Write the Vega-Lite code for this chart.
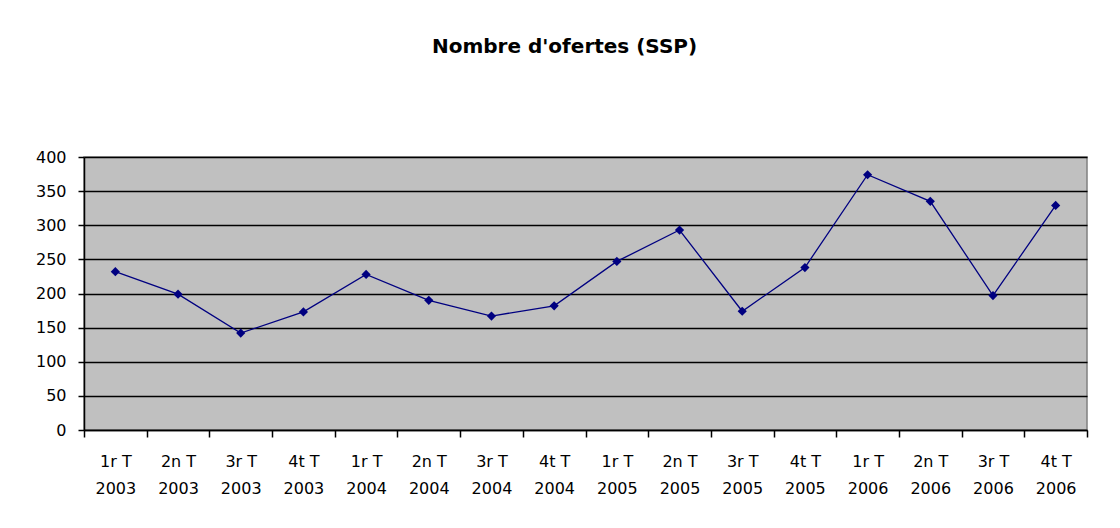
{
  "$schema": "https://vega.github.io/schema/vega-lite/v6.json",
  "autosize": "none",
  "padding": {"left": 84, "top": 157, "right": 33, "bottom": 98},
  "width": 1003,
  "height": 273,
  "background": "white",
  "title": {
    "text": "Nombre d'ofertes (SSP)",
    "font": "DejaVu Sans",
    "fontSize": 20,
    "fontWeight": "bold",
    "color": "black",
    "anchor": "middle",
    "frame": "group",
    "dx": -21,
    "offset": 92
  },
  "data": {
    "values": [
      {"trimestre": "1r T|2003", "ofertes": 232},
      {"trimestre": "2n T|2003", "ofertes": 199},
      {"trimestre": "3r T|2003", "ofertes": 142},
      {"trimestre": "4t T|2003", "ofertes": 173},
      {"trimestre": "1r T|2004", "ofertes": 228},
      {"trimestre": "2n T|2004", "ofertes": 190},
      {"trimestre": "3r T|2004", "ofertes": 167},
      {"trimestre": "4t T|2004", "ofertes": 182},
      {"trimestre": "1r T|2005", "ofertes": 247},
      {"trimestre": "2n T|2005", "ofertes": 293},
      {"trimestre": "3r T|2005", "ofertes": 174},
      {"trimestre": "4t T|2005", "ofertes": 238},
      {"trimestre": "1r T|2006", "ofertes": 374},
      {"trimestre": "2n T|2006", "ofertes": 335},
      {"trimestre": "3r T|2006", "ofertes": 197},
      {"trimestre": "4t T|2006", "ofertes": 329}
    ]
  },
  "encoding": {
    "x": {
      "field": "trimestre",
      "type": "ordinal",
      "sort": null,
      "scale": {"paddingInner": 0, "paddingOuter": 0},
      "axis": {
        "title": null,
        "labelAngle": 0,
        "labelExpr": "isString(datum.value) ? split(datum.value, '|') : ''",
        "labelFont": "DejaVu Sans",
        "labelFontSize": 16,
        "labelColor": "black",
        "labelLineHeight": 27,
        "labelPadding": 16,
        "labelBaseline": "top",
        "tickBand": "extent",
        "tickSize": 7,
        "tickColor": "black",
        "tickWidth": 1.5,
        "domainColor": "black",
        "domainWidth": 1.5,
        "grid": false
      }
    },
    "y": {
      "field": "ofertes",
      "type": "quantitative",
      "scale": {"domain": [0, 400], "nice": false},
      "axis": {
        "title": null,
        "values": [0, 50, 100, 150, 200, 250, 300, 350, 400],
        "labelFont": "DejaVu Sans",
        "labelFontSize": 16,
        "labelColor": "black",
        "labelPadding": 12,
        "tickSize": 6,
        "tickColor": "black",
        "tickWidth": 1.5,
        "domainColor": "black",
        "domainWidth": 1.5,
        "grid": true,
        "gridColor": "black",
        "gridWidth": 1.5,
        "gridOpacity": 1
      }
    }
  },
  "layer": [
    {
      "mark": {"type": "line", "color": "#000080", "strokeWidth": 1.3}
    },
    {
      "mark": {"type": "point", "shape": "diamond", "filled": true, "color": "#000080", "size": 85, "opacity": 1}
    }
  ],
  "config": {
    "view": {"fill": "#C0C0C0", "stroke": "#808080", "strokeWidth": 1.5}
  }
}
